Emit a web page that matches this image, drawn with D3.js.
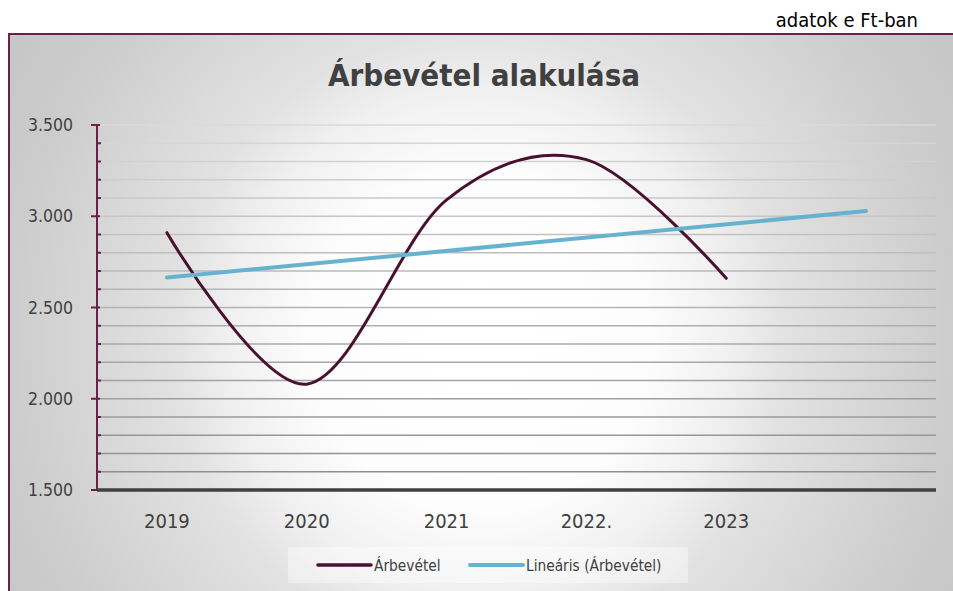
<!DOCTYPE html>
<html>
<head>
<meta charset="utf-8">
<script src="https://cdn.jsdelivr.net/npm/d3@7"></script>
<style>
  body { margin: 0; background: #fff; }
  svg { display: block; }
</style>
</head>
<body>
<div id="chart"></div>
<script>
// data
const categories = ["2019", "2020", "2021", "2022.", "2023", ""];
const revenue = [2910, 2080, 3090, 3310, 2660];
const yTicks = [1500, 2000, 2500, 3000, 3500];
const seriesNames = ["Árbevétel", "Lineáris (Árbevétel)"];

const w = 953, h = 591;
const margin = { left: 97, right: 17, top: 125, bottom: 101 };
const font = "'DejaVu Sans Condensed', 'DejaVu Sans', sans-serif";

const svg = d3.select("#chart").append("svg")
    .attr("width", w)
    .attr("height", h);

// background gradient
const defs = svg.append("defs");
const rg = defs.append("radialGradient")
    .attr("id", "bg")
    .attr("gradientUnits", "userSpaceOnUse")
    .attr("cx", 480).attr("cy", 340).attr("r", 560);
[[0, "#ffffff"], [0.3, "#fdfdfd"], [0.45, "#f0f0f0"], [0.55, "#e2e2e2"], [0.85, "#cccccc"], [1, "#c6c6c6"]]
    .forEach(s => rg.append("stop").attr("offset", s[0]).attr("stop-color", s[1]));

svg.append("rect")
    .attr("x", 9).attr("y", 34)
    .attr("width", w).attr("height", h)
    .attr("fill", "url(#bg)")
    .attr("stroke", "#6b1f4a")
    .attr("stroke-width", 2);

// note above the frame
svg.append("text")
    .text("adatok e Ft-ban")
    .attr("x", 918).attr("y", 27)
    .attr("text-anchor", "end")
    .attr("font-family", font)
    .attr("font-size", 20)
    .attr("fill", "#000");

// title
svg.append("text")
    .text("Árbevétel alakulása")
    .attr("x", 484).attr("y", 86)
    .attr("text-anchor", "middle")
    .attr("font-family", font)
    .attr("font-weight", "bold")
    .attr("font-size", 31)
    .attr("fill", "#404040");

//scales
const x = d3.scaleBand().domain(categories.map((d, i) => i)).range([margin.left, w - margin.right]);
const y = d3.scaleLinear().domain([1500, 3500]).range([h - margin.bottom, margin.top]);
const cx = i => x(i) + x.bandwidth() / 2;

// gridlines every 100
const gridVals = d3.range(1600, 3501, 100);
const gridColor = d3.scaleLinear().domain([1600, 3500]).range(["#8f8f8f", "#dadada"]);
svg.append("g").selectAll("line")
    .data(gridVals)
    .join("line")
    .attr("x1", margin.left).attr("x2", w - margin.right)
    .attr("y1", d => y(d)).attr("y2", d => y(d))
    .attr("stroke", d => gridColor(d))
    .attr("stroke-width", 1.6);

// y axis with major and minor ticks
const yaxis = svg.append("g").attr("transform", `translate(${margin.left},0)`);
yaxis.append("line")
    .attr("y1", y(3500)).attr("y2", y(1500))
    .attr("stroke", "#6b1f4a").attr("stroke-width", 2);
yaxis.selectAll(".minor")
    .data(d3.range(1600, 3500, 100).filter(d => d % 500 !== 0))
    .join("line")
    .attr("x1", 0).attr("x2", 4)
    .attr("y1", d => y(d)).attr("y2", d => y(d))
    .attr("stroke", "#6b1f4a").attr("stroke-width", 2);
yaxis.selectAll(".major")
    .data(yTicks)
    .join("line")
    .attr("x1", -6).attr("x2", 3)
    .attr("y1", d => y(d)).attr("y2", d => y(d))
    .attr("stroke", "#6b1f4a").attr("stroke-width", 2);
yaxis.selectAll("text")
    .data(yTicks)
    .join("text")
    .text(d => d3.format(",")(d).replace(",", "."))
    .attr("x", -24).attr("y", d => y(d) + 6)
    .attr("text-anchor", "end")
    .attr("font-family", font)
    .attr("font-size", 17.5)
    .attr("fill", "#404040");

// x axis
svg.append("line")
    .attr("x1", margin.left).attr("x2", w - margin.right)
    .attr("y1", y(1500)).attr("y2", y(1500))
    .attr("stroke", "#404040").attr("stroke-width", 3.5);
svg.append("g").selectAll("text")
    .data(categories)
    .join("text")
    .text(d => d)
    .attr("x", (d, i) => cx(i))
    .attr("y", 528)
    .attr("text-anchor", "middle")
    .attr("font-family", font)
    .attr("font-size", 20)
    .attr("fill", "#404040");

// revenue line, smoothed
const line = d3.line()
    .x((d, i) => cx(i))
    .y(d => y(d))
    .curve(d3.curveCatmullRom.alpha(0));
svg.append("path")
    .attr("d", line(revenue))
    .attr("fill", "none")
    .attr("stroke", "#4a1030")
    .attr("stroke-width", 3)
    .attr("stroke-linecap", "round");

// linear trend (least squares) with one period forecast
const xs = revenue.map((d, i) => i + 1);
const mx = d3.mean(xs), my = d3.mean(revenue);
const slope = d3.sum(xs, (v, i) => (v - mx) * (revenue[i] - my)) / d3.sum(xs, v => (v - mx) ** 2);
const trendAt = i => my + slope * (i + 1 - mx);
svg.append("line")
    .attr("x1", cx(0)).attr("y1", y(trendAt(0)))
    .attr("x2", cx(5)).attr("y2", y(trendAt(5)))
    .attr("stroke", "#67b3cf")
    .attr("stroke-width", 4)
    .attr("stroke-linecap", "round");

// legend
svg.append("rect")
    .attr("x", 288).attr("y", 547)
    .attr("width", 400).attr("height", 36)
    .attr("fill", "#ffffff")
    .attr("fill-opacity", 0.4);
const legendItems = [
    { name: seriesNames[0], color: "#4a1030", x: 318, sw: 3.5 },
    { name: seriesNames[1], color: "#67b3cf", x: 470, sw: 4 }
];
const lg = svg.append("g").selectAll("g")
    .data(legendItems)
    .join("g");
lg.append("line")
    .attr("x1", d => d.x).attr("x2", d => d.x + 53)
    .attr("y1", 565).attr("y2", 565)
    .attr("stroke", d => d.color)
    .attr("stroke-width", d => d.sw)
    .attr("stroke-linecap", "round");
lg.append("text")
    .text(d => d.name)
    .attr("x", d => d.x + 56).attr("y", 570.5)
    .attr("font-family", font)
    .attr("font-size", 15.3)
    .attr("fill", "#404040");
</script>
</body>
</html>
